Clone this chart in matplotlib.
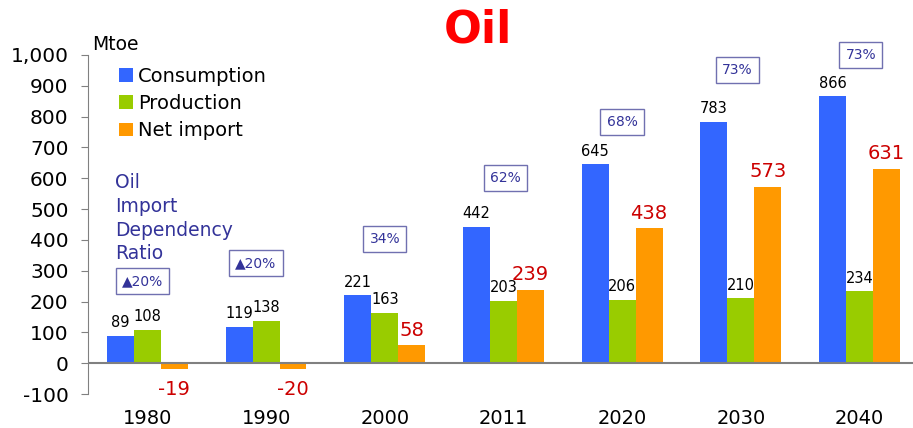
import matplotlib
matplotlib.use("Agg")
import matplotlib.pyplot as plt
import numpy as np

years = ["1980", "1990", "2000", "2011", "2020", "2030", "2040"]
consumption = [89, 119, 221, 442, 645, 783, 866]
production = [108, 138, 163, 203, 206, 210, 234]
net_import = [-19, -20, 58, 239, 438, 573, 631]
dependency = ["▲20%", "▲20%", "34%", "62%", "68%", "73%", "73%"]
dep_y = [266, 325, 403, 601, 782, 951, 1000]
dep_dx = [-0.04, -0.085, 0.0, 0.02, 0.0, -0.03, 0.01]

BLUE, GREEN, ORANGE = "#3366ff", "#99cc00", "#ff9900"
RED, NAVY = "#cc0000", "#333399"
plt.rcParams["font.family"] = ["DejaVu Sans"]

fig = plt.figure(figsize=(9.13, 4.28), dpi=100)
ax = fig.add_axes([0.0964, 0.0794, 0.9036, 0.7921])

x = np.arange(len(years))
w = 0.227
ax.bar(x - w, consumption, w, color=BLUE, label="Consumption")
ax.bar(x, production, w, color=GREEN, label="Production")
ax.bar(x + w, net_import, w, color=ORANGE, label="Net import")

# value labels
for xi, v in zip(x - w, consumption):
    ax.annotate(str(v), (xi, v), xytext=(0, 4), textcoords="offset points",
                ha="center", va="bottom", fontsize=10.5, color="black")
for xi, v in zip(x, production):
    ax.annotate(str(v), (xi, v), xytext=(0, 4), textcoords="offset points",
                ha="center", va="bottom", fontsize=10.5, color="black")
for xi, v in zip(x + w, net_import):
    if v >= 0:
        ax.annotate(str(v), (xi, v), xytext=(0, 4), textcoords="offset points",
                    ha="center", va="bottom", fontsize=14, color=RED)
    else:
        ax.annotate(str(v), (xi, v), xytext=(0, -8), textcoords="offset points",
                    ha="center", va="top", fontsize=14, color=RED)

# import dependency boxes
for xi, t, yy, dx in zip(x, dependency, dep_y, dep_dx):
    ax.text(xi + dx, yy, t, ha="center", va="center", fontsize=10, color=NAVY,
            bbox=dict(boxstyle="square,pad=0.45", fc="white", ec="#7070b0", lw=1))

ax.text(-0.27, 617, "Oil\nImport\nDependency\nRatio", ha="left", va="top",
        fontsize=13.5, color=NAVY, linespacing=1.32)

ax.set_xlim(-0.5, 6.45)
ax.set_ylim(-100, 1000)
ax.set_yticks(range(-100, 1001, 100))
ax.set_yticklabels([f"{t:,}" for t in range(-100, 1001, 100)], fontsize=14.5)
ax.set_xticks(x)
ax.set_xticklabels(years, fontsize=14)
ax.tick_params(axis="x", length=0, pad=10.5)
ax.tick_params(axis="y", length=5, color="#808080", pad=9)
for s in ("top", "right", "bottom"):
    ax.spines[s].set_visible(False)
ax.spines["left"].set_color("#808080")
ax.axhline(0, color="#808080", lw=1.5)

ax.legend(loc="upper left", bbox_to_anchor=(0.028, 0.988), borderaxespad=0,
          frameon=False, fontsize=14, handlelength=0.7, handleheight=0.7,
          handletextpad=0.3, labelspacing=0.42)
fig.text(0.101, 0.895, "Mtoe", fontsize=13.5, ha="left", va="center")
fig.text(0.523, 0.93, "Oil", fontsize=32, fontweight="bold", color="#ff0000",
         ha="center", va="center")

fig.savefig("out.png", dpi=100)
